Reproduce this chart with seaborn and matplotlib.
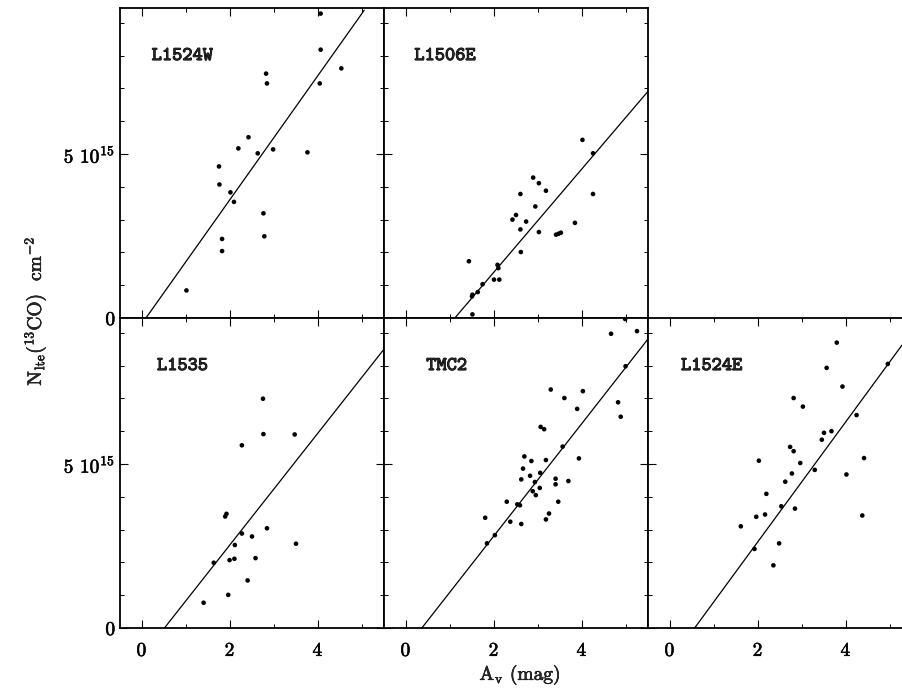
import matplotlib
matplotlib.use('Agg')
import matplotlib.pyplot as plt
import matplotlib.patheffects as pe
from matplotlib.ticker import MultipleLocator
import pandas as pd
import seaborn as sns

sns.set_style('ticks')
plt.rcParams['font.family'] = ['cmr10', 'DejaVu Serif']
plt.rcParams['mathtext.fontset'] = 'cm'
plt.rcParams['axes.formatter.use_mathtext'] = True

# A_v (mag) and N_lte(13CO) in units of 1e15 cm^-2
l1524w_av = [4.06, 4.06, 4.53, 2.82, 2.84, 4.04, 2.42, 2.19, 2.63, 2.98, 3.76,
             1.75, 1.76, 2.01, 2.09, 2.76, 2.78, 1.82, 1.82, 1.01]
l1524w_n = [9.28, 8.18, 7.61, 7.45, 7.15, 7.15, 5.51, 5.17, 5.02, 5.14, 5.05,
            4.62, 4.07, 3.83, 3.54, 3.19, 2.49, 2.41, 2.04, 0.84]

l1506e_av = [4.01, 4.25, 2.89, 3.02, 3.18, 2.60, 4.25, 2.94, 2.50, 2.42, 2.73,
             2.60, 3.02, 3.84, 3.41, 3.47, 3.52, 2.61, 1.43, 2.08, 2.10, 2.00,
             2.12, 1.74, 1.63, 1.51, 1.50, 1.51]
l1506e_n = [5.43, 5.02, 4.28, 4.11, 3.88, 3.78, 3.78, 3.40, 3.14, 3.00, 2.94,
            2.70, 2.62, 2.90, 2.54, 2.57, 2.60, 2.01, 1.73, 1.62, 1.52, 1.17,
            1.17, 1.03, 0.79, 0.71, 0.66, 0.11]

l1535_av = [2.75, 2.76, 3.47, 2.27, 1.89, 1.92, 2.84, 2.27, 2.50, 2.11, 3.50,
            1.63, 1.99, 2.10, 2.58, 2.40, 1.96, 1.40]
l1535_n = [6.99, 5.91, 5.90, 5.57, 3.40, 3.48, 3.04, 2.88, 2.79, 2.53, 2.57,
           1.99, 2.07, 2.11, 2.13, 1.45, 1.01, 0.77]

tmc2_av = [4.66, 5.25, 4.98, 4.99, 3.29, 4.02, 3.60, 3.89, 4.82, 4.88, 3.06,
           3.14, 3.56, 2.69, 2.85, 3.18, 3.93, 2.66, 3.05, 2.82, 2.62, 2.93,
           3.40, 3.40, 3.69, 3.04, 2.88, 2.95, 2.29, 2.53, 2.59, 3.46, 1.80,
           2.37, 2.62, 3.25, 3.18, 2.02, 1.84]
tmc2_n = [8.97, 9.05, 9.42, 7.98, 7.27, 7.22, 7.01, 6.68, 6.88, 6.44, 6.13,
          6.06, 5.53, 5.23, 5.09, 5.12, 5.17, 4.86, 4.73, 4.64, 4.53, 4.45,
          4.55, 4.38, 4.48, 4.27, 4.17, 4.05, 3.85, 3.77, 3.74, 3.85, 3.36,
          3.24, 3.17, 3.49, 3.31, 2.83, 2.58]

l1524e_av = [3.79, 3.56, 4.95, 3.92, 2.81, 3.02, 4.24, 3.50, 3.67, 3.45, 2.73,
             2.81, 2.02, 4.41, 2.96, 3.29, 2.77, 4.01, 2.62, 2.19, 2.53, 2.84,
             2.16, 1.96, 4.37, 1.61, 2.48, 1.92, 2.35]
l1524e_n = [8.70, 7.93, 8.05, 7.36, 7.01, 6.75, 6.49, 5.95, 6.00, 5.74, 5.52,
            5.39, 5.10, 5.18, 5.03, 4.82, 4.71, 4.68, 4.46, 4.09, 3.71, 3.64,
            3.46, 3.39, 3.43, 3.10, 2.58, 2.41, 1.91]

# fitted lines: end points
l1524w_fit_av, l1524w_fit_n = [0.09, 5.05], [0.0, 9.38]
l1506e_fit_av, l1506e_fit_n = [1.11, 5.50], [0.0, 6.91]
l1535_fit_av, l1535_fit_n = [0.51, 5.50], [0.0, 8.50]
tmc2_fit_av, tmc2_fit_n = [0.36, 5.50], [0.0, 8.81]
l1524e_fit_av, l1524e_fit_n = [0.56, 5.50], [0.0, 9.04]

panels = [
    (0, 0, 'L1524W', l1524w_av, l1524w_n, l1524w_fit_av, l1524w_fit_n, 0.12),
    (0, 1, 'L1506E', l1506e_av, l1506e_n, l1506e_fit_av, l1506e_fit_n, 0.115),
    (1, 0, 'L1535', l1535_av, l1535_n, l1535_fit_av, l1535_fit_n, 0.14),
    (1, 1, 'TMC2', tmc2_av, tmc2_n, tmc2_fit_av, tmc2_fit_n, 0.16),
    (1, 2, 'L1524E', l1524e_av, l1524e_n, l1524e_fit_av, l1524e_fit_n, 0.125),
]

bold = [pe.withStroke(linewidth=0.7, foreground='black')]
semibold = [pe.withStroke(linewidth=0.4, foreground='black')]

fig = plt.figure(figsize=(9.03, 6.9), dpi=100)
gs = fig.add_gridspec(2, 3, left=120/903, right=912/903, top=1-8/690,
                      bottom=1-628/690, wspace=0, hspace=0)

for row, col, name, av, n, fit_av, fit_n, lx in panels:
    ax = fig.add_subplot(gs[row, col])
    df = pd.DataFrame({'av': av, 'n': n})
    sns.scatterplot(data=df, x='av', y='n', ax=ax, color='black', s=11,
                    edgecolor='none', linewidth=0)
    fit = pd.DataFrame({'av': fit_av, 'n': fit_n})
    sns.lineplot(data=fit, x='av', y='n', ax=ax, color='black', linewidth=0.9)
    ax.set_xlim(-0.5, 5.5)
    ax.set_ylim(0, 9.45)
    ax.xaxis.set_major_locator(MultipleLocator(2))
    ax.xaxis.set_minor_locator(MultipleLocator(1))
    ax.set_yticks([0, 5])
    ax.yaxis.set_minor_locator(MultipleLocator(1))
    ax.set_yticklabels(['0', r'5 $10^{15}$'])
    ax.tick_params(which='both', direction='in', top=True, right=True,
                   colors='black', labelsize=14)
    ax.tick_params(which='major', length=6, width=0.8)
    ax.tick_params(which='minor', length=3, width=0.7)
    ax.tick_params(axis='x', pad=10)
    ax.tick_params(labelleft=(col == 0), labelbottom=(row == 1))
    for lab in ax.get_xticklabels() + ax.get_yticklabels():
        lab.set_path_effects(semibold)
    for sp in ax.spines.values():
        sp.set_linewidth(1.3)
        sp.set_color('black')
    ax.set_xlabel('')
    ax.set_ylabel('')
    ax.text(lx, 0.845, name, transform=ax.transAxes, fontsize=14,
            family='cmtt10', ha='left', va='center', path_effects=bold)

fig.text(0.039, 0.549, r'N$_{\rm lte}$($^{13}$CO)  cm$^{-2}$', rotation=90,
         ha='center', va='center', fontsize=14, path_effects=semibold)
fig.text(0.576, 0.022, r'A$_{\rm v}$ (mag)', ha='center', va='center',
         fontsize=14, path_effects=semibold)

fig.savefig('out.png', dpi=100)
